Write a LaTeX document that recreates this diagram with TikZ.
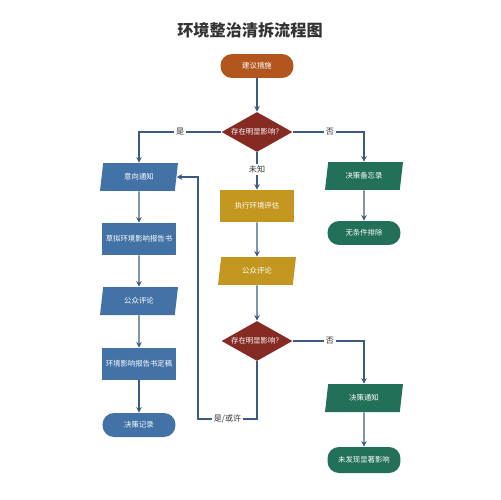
\documentclass[tikz,border=0pt]{standalone}
\usepackage{fontspec}
\setmainfont{Noto Sans CJK SC}
\usetikzlibrary{shapes.geometric,arrows.meta,positioning}
\definecolor{eorange}{HTML}{B3561E}
\definecolor{ered}{HTML}{862A24}
\definecolor{eblue}{HTML}{4272A6}
\definecolor{egreen}{HTML}{23705A}
\definecolor{egold}{HTML}{C2961F}
\definecolor{eline}{HTML}{3B5B82}
\begin{document}
\begin{tikzpicture}[x=0.02cm, y=-0.02cm,
  >={Stealth[length=3.2pt,width=3.2pt]},
  base/.style={text=white, inner sep=0pt, align=center, font=\fontsize{4.2}{5}\selectfont},
  term/.style={base, rounded corners=0.23cm, minimum width=1.46cm, minimum height=0.48cm},
  proc/.style={base, rectangle, minimum width=1.48cm, minimum height=0.64cm},
  io/.style={base, trapezium, trapezium left angle=65, trapezium right angle=115,
             trapezium stretches body, minimum width=1.56cm, minimum height=0.56cm},
  dec/.style={base, diamond, aspect=1.8, fill=ered, minimum width=1.42cm, minimum height=0.8cm},
  flow/.style={->, draw=eline, line width=0.8pt},
  lbl/.style={fill=white, inner sep=1pt, font=\fontsize{4.6}{5}\selectfont, text=black!80}]
\fill[white] (0,0) rectangle (500,500);
\node[font=\fontsize{9.2}{11}\selectfont\bfseries, text=black!80] (title) at (250,30) {环境整治清拆流程图};
% middle column
\node[term, fill=eorange] (start) at (257,66) {建议措施};
\node[dec] (dec1) at (257,132) {存在明显影响？};
\node[proc, fill=egold] (assess) at (257,206) {执行环境评估};
\node[io, fill=egold] (pub1) at (257,271) {公众评论};
\node[dec] (dec2) at (257,341) {存在明显影响？};
% left column
\node[io, fill=eblue] (notice) at (139,177) {意向通知};
\node[proc, fill=eblue] (draft) at (139,239) {草拟环境影响报告书};
\node[io, fill=eblue] (pub2) at (139,301) {公众评论};
\node[proc, fill=eblue] (final) at (139,364) {环境影响报告书定稿};
\node[term, fill=eblue] (record) at (139,425) {决策记录};
% right column
\node[io, fill=egreen] (memo) at (364,176) {决策备忘录};
\node[term, fill=egreen] (exclude) at (364,233) {无条件排除};
\node[io, fill=egreen] (dnotice) at (364,398) {决策通知};
\node[term, fill=egreen, minimum height=0.52cm] (nosig) at (364,460) {未发现显著影响};
\coordinate (loop) at (198,419);

\draw[flow] (start) -- (dec1);
\draw[flow] (dec1.west) -| node[lbl, pos=0.25]{是} (notice.north);
\draw[flow] (dec1.east) -| node[lbl, pos=0.26]{否} (memo.north);
\draw[flow] (dec1) -- node[lbl, pos=0.45]{未知} (assess);
\draw[flow] (memo) -- (exclude);
\draw[flow] (assess) -- (pub1);
\draw[flow] (pub1) -- (dec2);
\draw[flow] (dec2.east) -| node[lbl, pos=0.26]{否} (dnotice.north);
\draw[flow] (dnotice) -- (nosig);
\draw[flow] (notice) -- (draft);
\draw[flow] (draft) -- (pub2);
\draw[flow] (pub2) -- (final);
\draw[flow] (final) -- (record);
\draw[flow] (dec2.south) |- node[lbl, pos=0.75]{是/或许} (loop) |- (notice.east);
\end{tikzpicture}
\end{document}
